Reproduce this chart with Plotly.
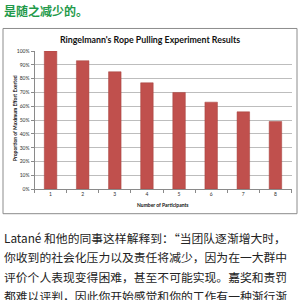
import plotly.graph_objects as go

participants = ["1", "2", "3", "4", "5", "6", "7", "8"]
effort = [1.00, 0.93, 0.85, 0.77, 0.70, 0.63, 0.56, 0.49]
y_ticks = [0, 0.1, 0.2, 0.3, 0.4, 0.5, 0.6, 0.7, 0.8, 0.9, 1.0]

chart_title = "Ringelmann's Rope Pulling Experiment Results"
x_title = "Number of Participants"
y_title = "Proportion of Maximum Effort Exerted"
top_text = "是随之减少的。"
body_lines = [
    "Latané 和他的同事这样解释到：“当团队逐渐增大时，",
    "你收到的社会化压力以及责任将减少，因为在一大群中",
    "评价个人表现变得困难，甚至不可能实现。嘉奖和责罚",
    "都难以评判，因此你开始感觉和你的工作有一种渐行渐",
]

W, H = 300, 300
def px(x):
    return x / W
def py(y):
    return 1 - y / H

fig = go.Figure()
fig.add_trace(go.Bar(
    x=participants, y=effort,
    marker=dict(color="#c0504d", line=dict(color="#a5403d", width=0.5)),
    hoverinfo="skip",
))

chart_font = "Lato, Liberation Sans, sans-serif"
fig.update_layout(
    width=W, height=H,
    margin=dict(l=0, r=0, t=0, b=0),
    paper_bgcolor="white", plot_bgcolor="white",
    showlegend=False,
    bargap=0.61,
    xaxis=dict(
        domain=[px(34.5), px(291.5)],
        type="category",
        showline=True, linecolor="#8a8a8a", linewidth=1,
        ticks="outside", ticklen=3, tickcolor="#8a8a8a", tickson="boundaries",
        tickfont=dict(size=5, color="#303030", family=chart_font),
        showgrid=False,
        anchor="y",
    ),
    yaxis=dict(
        domain=[py(190), py(49)],
        range=[0, 1.0],
        tickvals=y_ticks,
        tickformat=".0%",
        showline=True, linecolor="#8a8a8a", linewidth=1,
        ticks="outside", ticklen=3, tickcolor="#8a8a8a",
        tickfont=dict(size=5, color="#303030", family=chart_font),
        showgrid=True, gridcolor="#bdbdbd", gridwidth=1,
        zeroline=False,
        anchor="x",
    ),
)

# Chart border
fig.add_shape(type="rect", xref="paper", yref="paper",
              x0=px(3), x1=px(297), y0=py(215), y1=py(26),
              line=dict(color="#8c8c8c", width=1), fillcolor="rgba(0,0,0,0)",
              layer="below")

annotations = [
    dict(text="<b>" + chart_title + "</b>", x=px(150), y=py(37),
         xanchor="center", yanchor="middle",
         font=dict(size=8.8, color="#111", family=chart_font)),
    dict(text="<b>" + x_title + "</b>", x=px(163), y=py(206),
         xanchor="center", yanchor="middle",
         font=dict(size=5, color="#111", family=chart_font)),
    dict(text="<b>" + y_title + "</b>", x=px(14.5), y=py(118),
         xanchor="center", yanchor="middle", textangle=-90,
         font=dict(size=5, color="#111", family=chart_font)),
    dict(text="<b>" + top_text + "</b>", x=px(2), y=py(8),
         xanchor="left", yanchor="middle",
         font=dict(size=12, color="#1f9a4a", family="Noto Sans CJK SC")),
]
line_y = [239, 259, 279, 298]
for t, yy in zip(body_lines, line_y):
    annotations.append(dict(text=t, x=px(2), y=py(yy),
                            xanchor="left", yanchor="middle",
                            font=dict(size=11.8, color="#222", family="Noto Sans CJK SC")))
for a in annotations:
    a.update(xref="paper", yref="paper", showarrow=False)
fig.update_layout(annotations=annotations)

fig.write_html("out.html")
